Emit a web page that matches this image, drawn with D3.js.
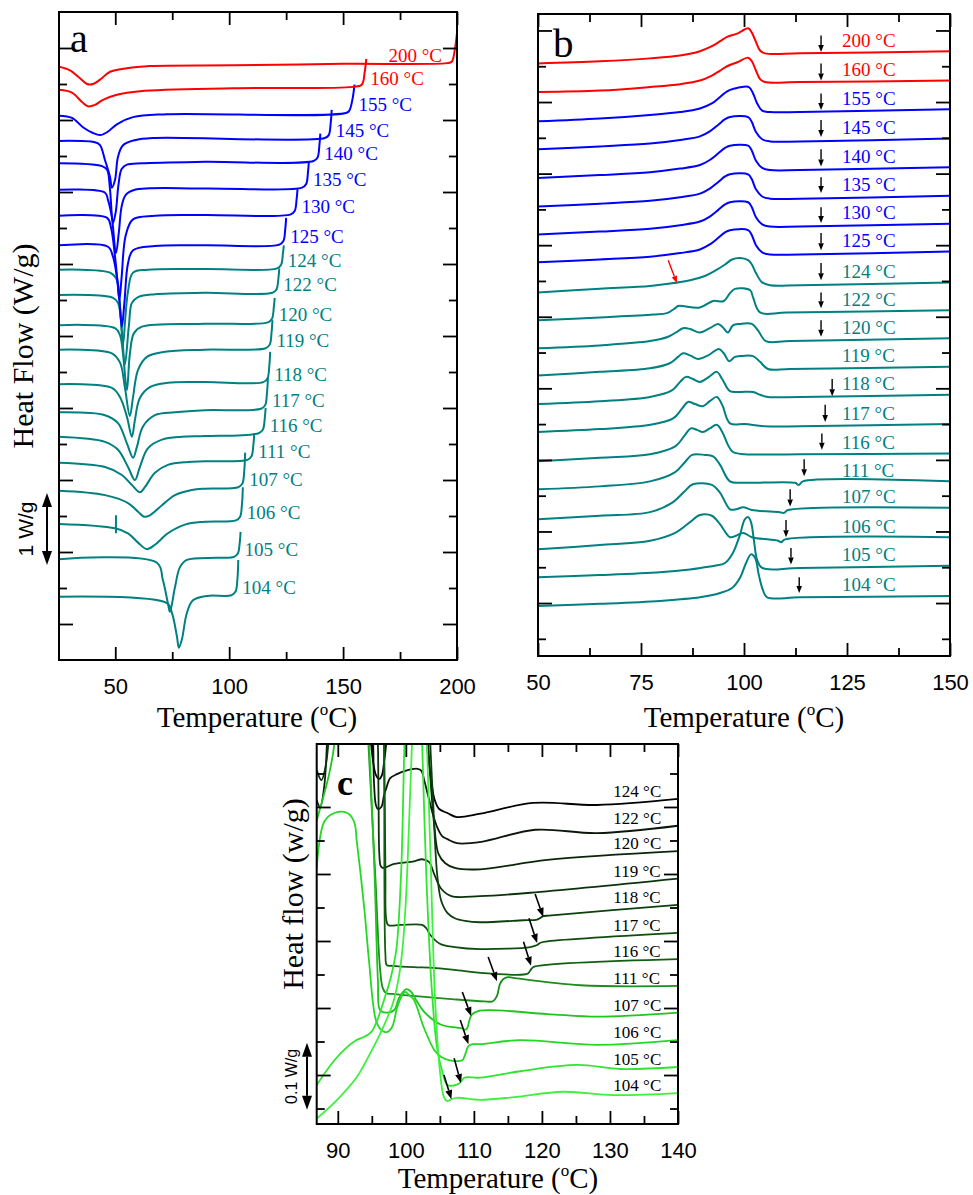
<!DOCTYPE html>
<html><head><meta charset="utf-8">
<script src="https://cdn.jsdelivr.net/npm/d3@7"></script>
<style>body{margin:0;background:#fff}svg{display:block}</style>
</head><body>
<svg id="chart" width="973" height="1195"></svg>
<script>
// ---------------- DATA (temperature °C, heat flow W/g, curves offset-stacked) ----------------
const temps = [200,160,155,145,140,135,130,125,124,122,120,119,118,117,116,111,107,106,105,104];

// panel a : heating scans
const a200=[[25.3,7.74],[30.1,7.69],[34.5,7.58],[37.6,7.50],[40.2,7.50],[43.3,7.56],[47.7,7.67],[55.1,7.72],[65.2,7.75],[101.6,7.76],[150,7.78],[195.5,7.79],[197.7,7.81],[199.0,7.97],[200,8.21]];
const a160=[[25.3,7.42],[31,7.38],[35.4,7.25],[38,7.19],[41.1,7.21],[44.6,7.28],[50.7,7.35],[60.8,7.40],[101.6,7.44],[154.3,7.46],[158.2,7.49],[159.5,7.67],[160.2,7.85]];
const a155=[[25.3,7.06],[31,7.03],[35.8,6.90],[40.2,6.82],[43.3,6.79],[46.4,6.83],[50.7,6.94],[57.8,7.04],[72.7,7.08],[151.6,7.10],[152.9,7.14],[154.3,7.32],[155,7.49]];
const a145=[[25.3,6.71],[41.1,6.69],[43.3,6.65],[45.5,6.44],[47.7,6.21],[48.5,6.06],[49.9,6.17],[51.2,6.49],[53.4,6.65],[58.6,6.72],[67.4,6.75],[142,6.75],[143.7,6.79],[144.6,6.97],[145,7.14]];
const a140=[[25.3,6.40],[44.2,6.36],[46.4,6.31],[47.7,6.03],[49,5.57],[50.2,5.72],[51.4,6.10],[52.8,6.32],[55.1,6.38],[61.7,6.40],[89.3,6.42],[137,6.43],[138.8,6.48],[139.6,6.65],[140,6.81]];
const a135=[[25.3,6.03],[45.5,5.99],[46.8,5.89],[48.5,5.65],[50.3,5.15],[51.6,5.45],[52.8,5.80],[54.6,5.96],[58.6,6.03],[89.3,6.05],[132,6.06],[133.8,6.11],[134.6,6.28],[135,6.43]];
const a130=[[25.3,5.67],[46.4,5.64],[48.1,5.51],[49.9,5.10],[51,4.75],[51.8,4.50],[52.8,4.82],[54.6,5.40],[57.8,5.62],[67.4,5.67],[89.3,5.68],[127,5.69],[128.8,5.74],[129.6,5.90],[130,6.04]];
const a125=[[25.3,5.26],[46.8,5.24],[49,5.10],[50.7,4.82],[51.8,4.50],[52.9,4.13],[54,4.46],[55.6,5.01],[57.8,5.19],[67.4,5.25],[89.3,5.26],[122,5.27],[123.8,5.32],[124.6,5.48],[125,5.64]];
const a124=[[25.3,4.92],[47.7,4.88],[50.7,4.78],[52.1,4.40],[53.4,3.88],[54.4,4.25],[55.6,4.62],[57.8,4.88],[64.3,4.92],[89.3,4.93],[121,4.94],[122.8,4.99],[123.6,5.15],[124,5.26]];
const a122=[[25.3,4.57],[49,4.53],[51.2,4.46],[52.9,4.07],[54.2,3.60],[56,4.15],[57.3,4.46],[60,4.54],[67.4,4.58],[89.3,4.60],[119,4.60],[120.8,4.65],[121.6,4.80],[122,4.94]];
const a120=[[25.3,4.15],[49.9,4.11],[52.1,4.01],[53.4,3.75],[55.1,3.25],[56.4,3.75],[58.2,4.04],[61.7,4.13],[89.3,4.17],[117,4.19],[118.8,4.24],[119.6,4.40],[120,4.53]];
const a119=[[25.3,3.81],[48.5,3.76],[52.1,3.63],[54.2,3.29],[56.4,2.89],[57.8,3.15],[60,3.53],[63.9,3.71],[71.8,3.78],[89.3,3.81],[116,3.83],[117.8,3.88],[118.6,4.05],[119,4.22]];
const a118=[[25.3,3.33],[48.5,3.28],[52.1,3.15],[55.1,2.88],[57.3,2.60],[58.6,2.83],[60.8,3.14],[65.2,3.29],[73.1,3.35],[89.3,3.36],[115,3.36],[116.8,3.41],[117.6,3.58],[118,3.78]];
const a117=[[25.3,2.94],[45.5,2.90],[51.2,2.79],[55.1,2.51],[57.8,2.31],[59.5,2.46],[62.1,2.74],[67.4,2.90],[76.2,2.94],[89.3,2.97],[114,2.99],[115.8,3.04],[116.6,3.21],[117,3.42]];
const a116=[[25.3,2.60],[45.5,2.53],[51.2,2.42],[55.6,2.18],[58.6,2.00],[60.8,2.18],[64.3,2.44],[70.5,2.56],[79.2,2.60],[89.3,2.61],[113,2.65],[114.8,2.70],[115.6,2.85],[116,3.00]];
const a111=[[25.3,2.24],[45.5,2.18],[52.9,2.07],[57.3,1.93],[60.8,1.83],[63,1.90],[67.4,2.10],[73.1,2.21],[81.9,2.25],[89.3,2.26],[108,2.28],[109.8,2.33],[110.6,2.48],[111,2.65]];
const a107=[[25.3,1.85],[45.5,1.79],[55.6,1.68],[60,1.56],[62.6,1.49],[65.2,1.51],[70.5,1.65],[76.2,1.79],[83.6,1.86],[89.3,1.88],[104,1.90],[105.8,1.95],[106.6,2.12],[107,2.38]];
const a106=[[25.3,1.39],[49.9,1.33],[55.6,1.26],[60,1.13],[63.9,1.04],[67.4,1.10],[73.1,1.26],[80.6,1.38],[89.3,1.42],[103,1.44],[104.8,1.49],[105.6,1.66],[106,1.90]];
const a105=[[25.3,0.90],[68.3,0.85],[70.9,0.61],[73.1,0.29],[74,0.17],[76.2,0.51],[78.4,0.79],[81.4,0.89],[94.6,0.92],[102,0.93],[103.8,0.98],[104.6,1.12],[105,1.28]];
const a104=[[25.3,0.38],[72.7,0.29],[74.9,0.15],[77.1,-0.18],[77.9,-0.33],[79.2,-0.22],[81.4,0.15],[84.1,0.33],[90.2,0.39],[101,0.40],[102.8,0.45],[103.6,0.62],[104,0.89]];
const a106tick=[[50.3,1.51],[50.3,1.26]];
const scaleBarA=[1.82,0.82];           // 1 W/g

// panel b : cooling scans
const b200=[[50,7.54],[65,7.57],[77.2,7.61],[84.5,7.65],[89.3,7.71],[92.2,7.78],[94.2,7.85],[95.9,7.91],[98.5,7.96],[101,8.03],[101.9,7.97],[102.9,7.84],[103.9,7.72],[105.1,7.68],[113.6,7.68],[150,7.71]];
const b160=[[50,7.14],[65,7.16],[77.2,7.21],[84.5,7.25],[89.3,7.30],[92.2,7.37],[94.2,7.44],[95.9,7.50],[98.5,7.56],[101,7.62],[101.9,7.57],[102.9,7.44],[103.9,7.32],[105.1,7.28],[113.6,7.28],[150,7.30]];
const b155=[[50,6.73],[65,6.77],[77.2,6.82],[84.5,6.86],[89.3,6.91],[92.2,6.98],[94.2,7.07],[95.9,7.15],[97.8,7.19],[99.5,7.21],[101.2,7.21],[102.2,7.12],[103.2,6.98],[104.4,6.88],[106.3,6.86],[113.6,6.86],[150,6.90]];
const b145=[[50,6.34],[65,6.38],[77.2,6.42],[84.5,6.47],[89.3,6.52],[91.7,6.59],[93.7,6.68],[95.4,6.76],[96.6,6.79],[101,6.79],[101.9,6.72],[102.9,6.58],[104.4,6.48],[106.3,6.45],[113.6,6.45],[150,6.49]];
const b140=[[50,5.94],[65,5.98],[77.2,6.02],[84.5,6.07],[89.3,6.12],[91.7,6.19],[93.7,6.28],[95.4,6.36],[96.6,6.39],[101,6.39],[101.9,6.32],[102.9,6.18],[104.4,6.08],[106.3,6.05],[113.6,6.05],[150,6.09]];
const b135=[[50,5.54],[65,5.58],[77.2,5.62],[84.5,5.67],[89.3,5.72],[91.7,5.79],[93.7,5.88],[95.4,5.96],[96.6,5.99],[101,5.99],[101.9,5.92],[102.9,5.78],[104.4,5.68],[106.3,5.65],[113.6,5.65],[150,5.69]];
const b130=[[50,5.15],[65,5.19],[77.2,5.23],[84.5,5.28],[89.3,5.33],[91.7,5.40],[93.7,5.49],[95.4,5.57],[96.6,5.60],[101,5.60],[101.9,5.53],[102.9,5.39],[104.4,5.29],[106.3,5.26],[113.6,5.26],[150,5.30]];
const b125=[[50,4.76],[65,4.80],[77.2,4.84],[84.5,4.89],[89.3,4.94],[91.7,5.01],[93.7,5.10],[95.4,5.18],[96.6,5.21],[101,5.21],[101.9,5.14],[102.9,5.00],[104.4,4.90],[106.3,4.87],[113.6,4.87],[150,4.91]];
const b124=[[50,4.34],[65,4.39],[77.2,4.43],[81.6,4.46],[86.9,4.51],[90.5,4.57],[92.9,4.64],[95.4,4.73],[97.1,4.80],[99,4.82],[101,4.79],[101.9,4.73],[102.9,4.61],[104.4,4.48],[106.3,4.44],[113.6,4.44],[150,4.48]];
const b122=[[50,3.95],[65,3.99],[78,4.03],[81.3,4.05],[83.3,4.12],[84,4.15],[89.3,4.13],[92.5,4.22],[95.1,4.22],[96.6,4.33],[97.8,4.39],[101.5,4.37],[102.2,4.27],[103.9,4.06],[110.4,4.06],[150,4.09]];
const b120=[[50,3.56],[65,3.60],[77.2,3.66],[81.6,3.72],[84,3.80],[85.2,3.84],[86.9,3.83],[89.3,3.78],[91.7,3.84],[93.7,3.90],[94.9,3.85],[96.1,3.78],[97.3,3.88],[99,3.90],[101.9,3.90],[103.4,3.81],[105.3,3.66],[111.2,3.66],[150,3.70]];
const b119=[[50,3.18],[65,3.23],[77.2,3.28],[82,3.35],[84,3.44],[85.2,3.49],[86.9,3.46],[88.8,3.41],[91.3,3.46],[93.9,3.55],[95.1,3.49],[96.4,3.38],[97.8,3.44],[99,3.45],[102.2,3.45],[103.9,3.37],[105.8,3.27],[111.2,3.27],[150,3.30]];
const b118=[[50,2.78],[65,2.82],[77.2,2.88],[82.5,2.97],[84.5,3.09],[85.9,3.16],[87.6,3.13],[89.3,3.09],[91.5,3.16],[93.4,3.23],[94.7,3.13],[96.6,2.96],[99,2.95],[102.2,2.95],[103.9,2.91],[105.8,2.88],[113.6,2.88],[150,2.91]];
const b117=[[50,2.39],[65,2.43],[77.2,2.49],[82.8,2.58],[85,2.72],[86.4,2.81],[88.1,2.78],[90,2.75],[91.7,2.82],[93.4,2.88],[94.7,2.77],[96.6,2.51],[100.2,2.50],[105.1,2.47],[113.6,2.47],[150,2.50]];
const b116=[[50,1.98],[65,2.03],[77.2,2.08],[83.3,2.19],[85.7,2.35],[87.1,2.44],[88.6,2.42],[90,2.39],[91.7,2.44],[93.4,2.49],[94.9,2.37],[96.1,2.21],[97.3,2.11],[100.2,2.08],[113.6,2.08],[150,2.09]];
const b111=[[50,1.59],[65,1.63],[77.2,1.70],[83.3,1.83],[85.7,1.97],[87.4,2.07],[90.5,2.07],[92.5,2.05],[94.2,1.93],[96.6,1.70],[100.2,1.68],[112.4,1.68],[113.3,1.65],[114.3,1.70],[150,1.70]];
const b107=[[50,1.17],[65,1.22],[77.2,1.27],[82.5,1.40],[85.4,1.55],[87.6,1.66],[92.2,1.65],[94.2,1.54],[96.6,1.31],[98.1,1.31],[99.8,1.34],[101.9,1.30],[108.7,1.27],[109.7,1.26],[110.7,1.30],[150,1.33]];
const b106=[[50,0.75],[65,0.81],[77.2,0.87],[83.3,0.98],[86.9,1.13],[89.3,1.23],[92.2,1.22],[94.2,1.10],[96.6,0.92],[98.1,0.94],[99.8,0.98],[101.9,0.92],[108.3,0.87],[109,0.85],[110,0.89],[150,0.92]];
const b105=[[50,0.36],[65,0.39],[79.6,0.43],[86.9,0.47],[90.5,0.50],[92.9,0.52],[95.4,0.56],[97.3,0.70],[99,0.95],[100.2,1.17],[101,1.20],[101.7,1.13],[102.4,0.88],[103.2,0.60],[104.4,0.49],[113.6,0.49],[150,0.52]];
const b104=[[50,-0.04],[65,-0.01],[79.6,0.03],[89.3,0.08],[94.2,0.14],[97.1,0.21],[99,0.35],[100.5,0.56],[101.7,0.68],[102.7,0.63],[103.6,0.39],[104.6,0.18],[105.6,0.08],[113.6,0.08],[150,0.10]];
const arrowT_B  =[118.7,118.7,118.7,118.7,118.7,118.7,118.7,118.7,118.7,118.7,118.7,null,121.4,119.7,118.9,114.6,111.2,110.2,111.4,113.4];
const arrowTop_B=[7.93,7.54,7.12,6.75,6.34,5.95,5.53,5.17,4.75,4.34,3.95,null,3.13,2.77,2.37,2.01,1.59,1.16,0.77,0.36];
const arrowBot_B=[7.70,7.30,6.89,6.51,6.10,5.73,5.31,4.93,4.51,4.12,3.72,null,2.89,2.53,2.14,1.77,1.35,0.92,0.54,0.14];
const redArrowB=[[81.6,4.79],[83.7,4.47]];

// panel c : magnified cooling scans
const tempsC=[124,122,120,119,118,117,116,111,107,106,105,104];
const c124=[[94.6,0.60],[94.9,0.494],[95.6,0.448],[96.1,0.442],[96.5,0.448],[96.8,0.467],[97.1,0.494],[97.4,0.60],[102.8,0.60],[103.1,0.494],[103.7,0.442],[104.2,0.412],[104.9,0.397],[106.1,0.391],[107.5,0.385],[111,0.390],[118.7,0.406],[128.1,0.403],[140,0.412]];
const c122=[[94.6,0.60],[95.2,0.494],[95.3,0.442],[95.6,0.403],[95.9,0.397],[96.4,0.400],[96.8,0.418],[97.1,0.427],[97.7,0.443],[98.7,0.449],[99.9,0.454],[101.7,0.457],[102.3,0.454],[102.7,0.440],[103.4,0.412],[104.0,0.388],[104.6,0.370],[105.3,0.357],[106.1,0.352],[107.5,0.346],[111.1,0.348],[119.0,0.366],[128.1,0.361],[140,0.372]];
const c120=[[86.9,0.41],[87.4,0.40],[88.0,0.43],[88.4,0.494],[88.8,0.60],[102.8,0.60],[103.3,0.494],[103.7,0.43],[104.2,0.37],[104.8,0.33],[105.8,0.316],[107.2,0.309],[110.9,0.307],[120.8,0.321],[140,0.334]];
const c119=[[86.9,0.455],[87.6,0.44],[88.2,0.46],[88.6,0.494],[89.0,0.60],[95.6,0.60],[95.9,0.494],[96.0,0.40],[96.1,0.33],[96.3,0.312],[96.6,0.309],[98.3,0.315],[101.2,0.319],[102.4,0.322],[103.4,0.318],[104.2,0.299],[105.2,0.278],[106.7,0.267],[110.9,0.267],[118.3,0.272],[140,0.293]];
const c118=[[103.3,0.60],[103.6,0.494],[104.0,0.41],[104.6,0.30],[105.2,0.26],[106.1,0.242],[107.2,0.234],[108.7,0.230],[110.9,0.228],[117.3,0.231],[119.3,0.232],[120.2,0.237],[121,0.238],[140,0.254]];
const c117=[[96.5,0.60],[96.8,0.494],[97.0,0.30],[97.1,0.234],[97.4,0.224],[99.2,0.224],[102.4,0.224],[103.0,0.219],[103.6,0.209],[105.0,0.196],[107.2,0.191],[110.9,0.188],[118.3,0.191],[119.3,0.194],[119.7,0.197],[120.5,0.199],[140,0.212]];
const c116=[[96.6,0.60],[96.8,0.494],[97.0,0.18],[97.2,0.164],[98.0,0.163],[101.2,0.161],[104.0,0.160],[107.1,0.157],[111.5,0.152],[117.3,0.150],[118.0,0.152],[118.5,0.159],[119.0,0.162],[140,0.173]];
const c111=[[94.0,0.60],[94.5,0.494],[95.5,0.30],[96.2,0.16],[96.6,0.13],[97.1,0.122],[98.0,0.121],[100.2,0.119],[107.1,0.113],[111.5,0.110],[112.8,0.110],[113.4,0.118],[113.8,0.135],[114.3,0.143],[115.0,0.146],[115.8,0.145],[125.6,0.134],[140,0.133]];
const c107=[[86.9,0.38],[88.7,0.448],[89.5,0.494],[90.2,0.60],[93.9,0.60],[94.6,0.494],[95.4,0.30],[95.9,0.14],[96.2,0.097],[97.1,0.093],[98.3,0.097],[99.0,0.115],[100.0,0.128],[100.7,0.125],[101.5,0.112],[102.8,0.093],[105.2,0.075],[108.1,0.070],[108.9,0.068],[109.3,0.080],[109.7,0.090],[110.9,0.096],[120.8,0.091],[128.1,0.087],[140,0.093]];
const c106=[[86.9,0.309],[88.0,0.378],[89.5,0.391],[91.4,0.391],[92.4,0.378],[92.8,0.348],[93.9,0.248],[94.6,0.169],[95.6,0.082],[96.4,0.067],[97.2,0.064],[98.0,0.072],[98.7,0.100],[99.4,0.118],[99.9,0.124],[100.5,0.119],[101.2,0.112],[102.6,0.072],[104.2,0.037],[105.2,0.027],[106.5,0.022],[108.3,0.022],[108.7,0.030],[109.2,0.043],[109.8,0.046],[110.9,0.046],[116.8,0.052],[128.1,0.045],[140,0.052]];
const c105=[[86.9,-0.015],[89.5,0.022],[91.4,0.042],[92.7,0.052],[93.9,0.057],[94.9,0.064],[95.8,0.082],[96.8,0.112],[97.8,0.146],[98.6,0.187],[99.3,0.30],[99.8,0.494],[100.2,0.60],[102.0,0.60],[102.4,0.494],[103.0,0.30],[103.8,0.13],[104.6,0.04],[105.5,0.0],[106.1,-0.015],[107.6,-0.014],[108.1,-0.010],[108.6,-0.004],[110.9,-0.004],[117,0.006],[125.2,0.015],[131.5,0.009],[140,0.012]];
const c104=[[86.9,-0.065],[89.9,-0.037],[92.8,-0.003],[94.8,0.033],[96.7,0.072],[98.1,0.107],[98.9,0.142],[99.5,0.187],[100.0,0.26],[100.6,0.41],[100.9,0.494],[101.2,0.60],[102.8,0.60],[103.1,0.494],[103.6,0.336],[104.3,0.112],[105.0,0.007],[105.6,-0.033],[106.1,-0.039],[106.7,-0.036],[107.5,-0.034],[110.9,-0.037],[116,-0.033],[123.1,-0.025],[130.5,-0.030],[140,-0.027]];
const arrowsC=[[[119.0,0.270],[120.2,0.236]],[[118.1,0.234],[119.3,0.197]],[[117.3,0.199],[118.4,0.163]],[[112.1,0.176],[113.4,0.140]],[[108.3,0.124],[109.6,0.088]],[[108.0,0.082],[109.2,0.046]],[[107.1,0.025],[108.1,-0.012]],[[105.6,0.000],[106.7,-0.036]]];
const scaleBarC=[0.048,-0.052];        // 0.1 W/g

const curvesA=[a200,a160,a155,a145,a140,a135,a130,a125,a124,a122,a120,a119,a118,a117,a116,a111,a107,a106,a105,a104];
const curvesB=[b200,b160,b155,b145,b140,b135,b130,b125,b124,b122,b120,b119,b118,b117,b116,b111,b107,b106,b105,b104];
const curvesC=[c124,c122,c120,c119,c118,c117,c116,c111,c107,c106,c105,c104];
const colorsC=['#000000','#0b170b','#0a250a','#0b330b','#0c400c','#0e4d0e','#115d11','#1b8e1b','#1fc61f','#24d824','#2ee62e','#3ff03f'];

// ---------------- DRAWING ----------------
const svg=d3.select('#chart');
const serif='"Liberation Serif","Times New Roman",Times,serif';
const sans='"Liberation Sans",Arial,Helvetica,sans-serif';
const colorFor=t=>t>=160?'#ff0000':(t>=125?'#0000ff':'#008080');

function makePanel(cfg){
  const x=d3.scaleLinear().domain(cfg.xDomain).range([cfg.left,cfg.right]);
  const y=d3.scaleLinear().domain(cfg.yDomain).range([cfg.bottom,cfg.top]);
  const g=svg.append('g');
  g.append('clipPath').attr('id',cfg.id).append('rect')
    .attr('x',cfg.left).attr('y',cfg.top).attr('width',cfg.right-cfg.left).attr('height',cfg.bottom-cfg.top);
  const plot=g.append('g').attr('clip-path',`url(#${cfg.id})`);
  const line=d3.line().x(d=>x(d[0])).y(d=>y(d[1])).curve(d3.curveCatmullRom.alpha(0.5));
  return {x,y,g,plot,line,cfg};
}
function drawAxes(P){
  const {x,y,g,cfg}=P;
  const style=s=>{s.select('.domain').remove();s.selectAll('line').attr('stroke','#000').attr('stroke-width',1.8);};
  g.append('g').attr('transform',`translate(0,${cfg.bottom})`)
    .call(d3.axisBottom(x).tickValues(cfg.xMajor).tickSize(-13).tickPadding(18).tickFormat(d3.format('d')))
    .call(style)
    .call(s=>s.selectAll('text').attr('font-family',sans).attr('font-size',22).attr('fill','#000'));
  g.append('g').attr('transform',`translate(0,${cfg.bottom})`)
    .call(d3.axisBottom(x).tickValues(cfg.xMinor).tickSize(-8).tickFormat('')).call(style);
  g.append('g').attr('transform',`translate(0,${cfg.top})`)
    .call(d3.axisTop(x).tickValues(cfg.xMajor).tickSize(-13).tickFormat('')).call(style);
  g.append('g').attr('transform',`translate(0,${cfg.top})`)
    .call(d3.axisTop(x).tickValues(cfg.xMinor).tickSize(-8).tickFormat('')).call(style);
  [[cfg.yMajor,14],[cfg.yMinor,8]].forEach(([vals,len])=>{
    g.append('g').attr('transform',`translate(${cfg.left},0)`)
      .call(d3.axisLeft(y).tickValues(vals).tickSize(-len).tickFormat('')).call(style);
    g.append('g').attr('transform',`translate(${cfg.right},0)`)
      .call(d3.axisRight(y).tickValues(vals).tickSize(-len).tickFormat('')).call(style);
  });
  g.append('rect').attr('x',cfg.left).attr('y',cfg.top).attr('width',cfg.right-cfg.left)
    .attr('height',cfg.bottom-cfg.top).attr('fill','none').attr('stroke','#000').attr('stroke-width',2);
}
function arrow(g,x1,y1,x2,y2,c,hl,hw,sw){
  const a=Math.atan2(y2-y1,x2-x1);
  const bx=x2-hl*Math.cos(a), by=y2-hl*Math.sin(a);
  g.append('line').attr('x1',x1).attr('y1',y1).attr('x2',bx).attr('y2',by).attr('stroke',c).attr('stroke-width',sw);
  const px=-Math.sin(a)*hw, py=Math.cos(a)*hw;
  g.append('path').attr('d',`M${x2},${y2}L${bx+px},${by+py}L${bx-px},${by-py}Z`).attr('fill',c);
}
function doubleArrow(g,xp,y1,y2){
  const hl=14,hw=5;
  g.append('line').attr('x1',xp).attr('x2',xp).attr('y1',y1+hl).attr('y2',y2-hl).attr('stroke','#000').attr('stroke-width',2);
  g.append('path').attr('d',`M${xp},${y1}L${xp-hw},${y1+hl}L${xp+hw},${y1+hl}Z`).attr('fill','#000');
  g.append('path').attr('d',`M${xp},${y2}L${xp-hw},${y2-hl}L${xp+hw},${y2-hl}Z`).attr('fill','#000');
}
function tempTitle(cx,by){
  const t=svg.append('text').attr('x',cx).attr('y',by).attr('text-anchor','middle')
    .attr('font-family',serif).attr('font-size',29).attr('fill','#000');
  t.append('tspan').text('Temperature (');
  t.append('tspan').text('o').attr('font-size',17).attr('dy',-12);
  t.append('tspan').text('C)').attr('dy',12);
}
function vTitle(txt,xb,cy,size,fam){
  svg.append('text').attr('transform',`translate(${xb},${cy}) rotate(-90)`).attr('text-anchor','middle')
    .attr('font-family',fam).attr('font-size',size).attr('fill','#000').text(txt);
}
const range=(a,b,s)=>d3.range(Math.round((b-a)/s)+1).map(i=>+(a+i*s).toFixed(3));

// ---- panel a ----
const PA=makePanel({id:'clipA',left:59,right:457,top:12,bottom:660,xDomain:[25.3,200],yDomain:[-0.5,8.5],
  xMajor:[50,100,150,200],xMinor:[75,125,175],yMajor:range(0,8,1),yMinor:range(0.5,7.5,1)});
for(let i=temps.length-1;i>=0;i--){
  PA.plot.append('path').attr('d',PA.line(curvesA[i])).attr('fill','none')
    .attr('stroke',colorFor(temps[i])).attr('stroke-width',2);
}
PA.plot.append('path').attr('d',d3.line().x(d=>PA.x(d[0])).y(d=>PA.y(d[1]))(a106tick))
  .attr('stroke',colorFor(106)).attr('stroke-width',2);
drawAxes(PA);
temps.forEach((t,i)=>{
  const d=curvesA[i], last=d[d.length-1], flat=d[d.length-4];
  let tx=PA.x(last[0])+4, anchor='start';
  if(tx+55>PA.cfg.right){tx=PA.x(last[0])-15;anchor='end';}
  PA.g.append('text').attr('x',tx).attr('y',PA.y(flat[1])-1.5).attr('text-anchor',anchor)
    .attr('font-family',serif).attr('font-size',19).attr('fill',colorFor(t)).text(`${t} °C`);
});
svg.append('text').attr('x',70).attr('y',52).attr('font-family',serif).attr('font-size',40).text('a');
doubleArrow(svg,47,PA.y(scaleBarA[0]),PA.y(scaleBarA[1]));
vTitle('1 W/g',33,(PA.y(scaleBarA[0])+PA.y(scaleBarA[1]))/2,21,sans);
vTitle('Heat Flow (W/g)',33,346,30,serif);
tempTitle(257,727);

// ---- panel b ----
const PB=makePanel({id:'clipB',left:538,right:950,top:14,bottom:656,xDomain:[50,150],yDomain:[-0.74,8.23],
  xMajor:[50,75,100,125,150],xMinor:[62.5,87.5,112.5,137.5],yMajor:range(0,8,1),yMinor:range(-0.5,7.5,1)});
for(let i=temps.length-1;i>=0;i--){
  PB.plot.append('path').attr('d',PB.line(curvesB[i])).attr('fill','none')
    .attr('stroke',colorFor(temps[i])).attr('stroke-width',2);
}
drawAxes(PB);
temps.forEach((t,i)=>{
  const d=curvesB[i], last=d[d.length-1];
  PB.g.append('text').attr('x',PB.x(123.8)).attr('y',PB.y(last[1])-4.5)
    .attr('font-family',serif).attr('font-size',19).attr('fill',colorFor(t)).text(`${t} °C`);
  if(arrowT_B[i]!==null){
    arrow(PB.g,PB.x(arrowT_B[i]),PB.y(arrowTop_B[i]),PB.x(arrowT_B[i]),PB.y(arrowBot_B[i]),'#000',7,2.8,1.4);
  }
});
arrow(PB.g,PB.x(redArrowB[0][0]),PB.y(redArrowB[0][1]),PB.x(redArrowB[1][0]),PB.y(redArrowB[1][1]),'#ff0000',7,2.8,1.4);
svg.append('text').attr('x',553).attr('y',57).attr('font-family',serif).attr('font-size',41).text('b');
tempTitle(744,727);

// ---- panel c ----
const PC=makePanel({id:'clipC',left:316.7,right:678,top:744,bottom:1124,xDomain:[86.9,140],yDomain:[-0.0731,0.494],
  xMajor:range(90,140,10),xMinor:range(95,135,10),yMajor:range(0,0.4,0.1),yMinor:range(-0.05,0.45,0.1)});
curvesC.forEach((d,i)=>{
  PC.plot.append('path').attr('d',PC.line(d)).attr('fill','none').attr('stroke',colorsC[i]).attr('stroke-width',1.8);
});
drawAxes(PC);
tempsC.forEach((t,i)=>{
  const d=curvesC[i], last=d[d.length-1];
  PC.g.append('text').attr('x',PC.x(130.5)).attr('y',PC.y(last[1])-2)
    .attr('font-family',serif).attr('font-size',17).attr('fill','#000').text(`${t} °C`);
});
arrowsC.forEach(([p,q])=>arrow(PC.g,PC.x(p[0]),PC.y(p[1]),PC.x(q[0]),PC.y(q[1]),'#000',9,3.5,1.6));
svg.append('text').attr('x',337).attr('y',795).attr('font-family',serif).attr('font-weight','bold').attr('font-size',36).text('c');
doubleArrow(svg,307,PC.y(scaleBarC[0]),PC.y(scaleBarC[1]));
vTitle('0.1 W/g',297,(PC.y(scaleBarC[0])+PC.y(scaleBarC[1]))/2,16,sans);
vTitle('Heat flow (w/g)',303,894,30,serif);
tempTitle(498,1188);
</script>
</body></html>
